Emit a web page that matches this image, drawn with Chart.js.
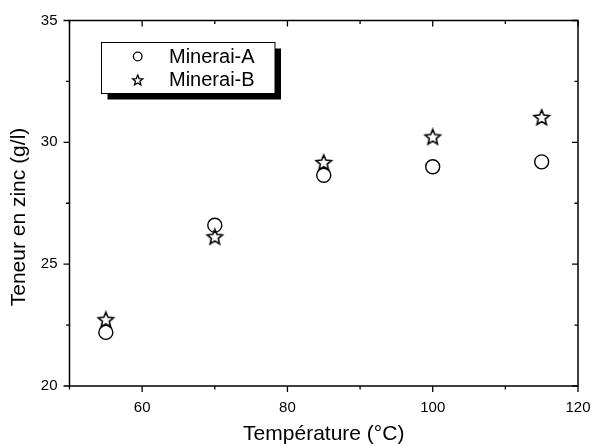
<!DOCTYPE html>
<html><head><meta charset="utf-8">
<script src="https://cdn.jsdelivr.net/npm/chart.js@4/dist/chart.umd.min.js"></script>
<style>html,body{margin:0;padding:0;background:#fff}canvas{display:block}</style>
</head><body>
<canvas id="c" width="591" height="444"></canvas>
<script>
const temperatures = [55, 70, 85, 100, 115];
const mineraiA = [22.2, 26.6, 28.65, 29.0, 29.2];
const mineraiB = [22.7, 26.1, 29.15, 30.2, 31.0];
const seriesLabels = ['Minerai-A', 'Minerai-B'];
const xTicks = [60, 80, 100, 120];
const xMinorTicks = [50, 70, 90, 110];
const yTicks = [20, 25, 30, 35];
const yMinorTicks = [22.5, 27.5, 32.5];
const xTitle = 'Température (°C)';
const yTitle = 'Teneur en zinc (g/l)';

const FONT = "'Liberation Sans', Arial, Helvetica, sans-serif";

function starPath(g, cx, cy, R, r) {
  g.beginPath();
  for (let i = 0; i < 10; i++) {
    const rad = i % 2 === 0 ? R : r;
    const a = -Math.PI / 2 + i * Math.PI / 5;
    const px = cx + rad * Math.cos(a), py = cy + rad * Math.sin(a);
    if (i === 0) g.moveTo(px, py); else g.lineTo(px, py);
  }
  g.closePath();
}
function makeStar(R, r, lw) {
  const s = Math.ceil(2 * R + 4);
  const c = document.createElement('canvas');
  c.width = s; c.height = s;
  const g = c.getContext('2d');
  starPath(g, s / 2, s / 2, R, r);
  g.lineWidth = lw; g.strokeStyle = '#000'; g.lineJoin = 'miter';
  g.stroke();
  return c;
}
const starImg = makeStar(8, 3.6, 1.6);

const toPts = (ys) => temperatures.map((x, i) => ({x: x, y: ys[i]}));

const framePlugin = {
  id: 'frame',
  afterDraw(chart) {
    const ctx = chart.ctx;
    const xs = chart.scales.x, ys = chart.scales.y;
    const L = xs.getPixelForValue(50), R = xs.getPixelForValue(120);
    const T = ys.getPixelForValue(35), B = ys.getPixelForValue(20);
    ctx.save();
    ctx.strokeStyle = '#000';
    ctx.lineWidth = 1.5;
    ctx.strokeRect(L, T, R - L, B - T);
    ctx.lineWidth = 1.3;
    ctx.beginPath();
    const tick = (vals, len) => {
      vals.forEach(v => {
        const px = xs.getPixelForValue(v);
        ctx.moveTo(px, B); ctx.lineTo(px, B + len);
        ctx.moveTo(px, T); ctx.lineTo(px, T + len);
      });
    };
    tick(xTicks, 6); tick(xMinorTicks, 3.5);
    const ytick = (vals, len) => {
      vals.forEach(v => {
        const py = ys.getPixelForValue(v);
        ctx.moveTo(L, py); ctx.lineTo(L - len, py);
        ctx.moveTo(R, py); ctx.lineTo(R - len, py);
      });
    };
    ytick(yTicks, 6); ytick(yMinorTicks, 3.5);
    ctx.stroke();

    // axis titles
    ctx.fillStyle = '#000';
    ctx.font = '21px ' + FONT;
    ctx.textAlign = 'center';
    ctx.textBaseline = 'alphabetic';
    ctx.fillText(xTitle, (L + R) / 2, 440);
    ctx.save();
    ctx.translate(25, 217);
    ctx.rotate(-Math.PI / 2);
    ctx.fillText(yTitle, 0, 0);
    ctx.restore();

    // legend
    const bx = 101.5, by = 42.5, bw = 173.5, bh = 51;
    ctx.fillStyle = '#000';
    ctx.fillRect(bx + 6, by + 6, bw, bh);
    ctx.fillStyle = '#fff';
    ctx.fillRect(bx, by, bw, bh);
    ctx.lineWidth = 1;
    ctx.strokeRect(bx, by, bw, bh);
    ctx.lineWidth = 1.3;
    ctx.beginPath();
    ctx.arc(137.7, 56.5, 4.3, 0, Math.PI * 2);
    ctx.stroke();
    starPath(ctx, 137.7, 80.5, 5.4, 2.4);
    ctx.stroke();
    ctx.fillStyle = '#000';
    ctx.font = '20px ' + FONT;
    ctx.textAlign = 'left';
    ctx.fillText(seriesLabels[0], 169, 62.9);
    ctx.fillText(seriesLabels[1], 169, 85.9);
    ctx.restore();
  }
};

new Chart(document.getElementById('c'), {
  type: 'scatter',
  data: {
    datasets: [
      {label: seriesLabels[0], data: toPts(mineraiA), pointStyle: 'circle', pointRadius: 7,
       borderColor: '#000', backgroundColor: 'rgba(0,0,0,0)', borderWidth: 1.4, showLine: false},
      {label: seriesLabels[1], data: toPts(mineraiB), pointStyle: starImg, pointRadius: 8,
       borderColor: '#000', backgroundColor: 'rgba(0,0,0,0)', borderWidth: 1.4, showLine: false}
    ]
  },
  options: {
    responsive: false,
    animation: false,
    events: [],
    devicePixelRatio: 1,
    layout: {padding: {top: 20.5, right: 13, left: 0, bottom: 0}},
    plugins: {legend: {display: false}, tooltip: {enabled: false}, title: {display: false}},
    scales: {
      x: {
        type: 'linear', min: 50, max: 120,
        afterBuildTicks: (s) => { s.ticks = xTicks.map(v => ({value: v})); },
        afterFit: (s) => { s.height = 58; s.paddingLeft = 0; s.paddingRight = 0; },
        grid: {display: false, drawTicks: false},
        border: {display: false},
        ticks: {color: '#000', font: {size: 15, family: FONT}, padding: 12.5, maxRotation: 0}
      },
      y: {
        type: 'linear', min: 20, max: 35,
        afterBuildTicks: (s) => { s.ticks = yTicks.map(v => ({value: v})); },
        afterFit: (s) => { s.width = 69.5; s.paddingTop = 0; s.paddingBottom = 0; },
        grid: {display: false, drawTicks: false},
        border: {display: false},
        ticks: {color: '#000', font: {size: 15, family: FONT}, padding: 12}
      }
    }
  },
  plugins: [framePlugin]
});
</script>
</body></html>
